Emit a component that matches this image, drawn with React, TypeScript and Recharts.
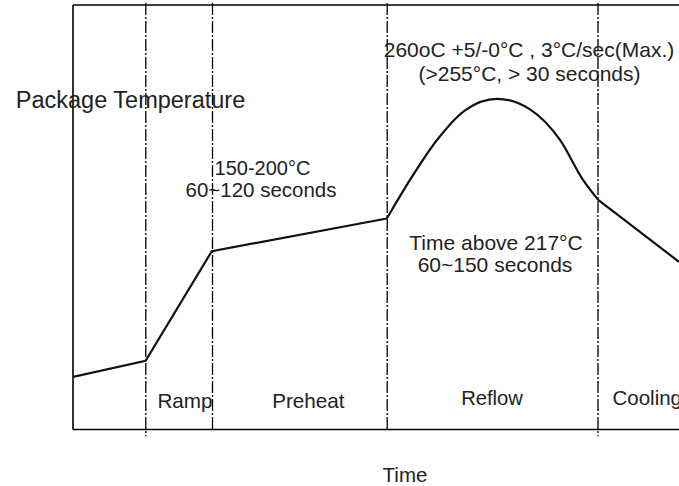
import { LineChart, Line, XAxis, YAxis, ReferenceLine, ReferenceDot } from "recharts";

// reflow profile, schematic: time in arbitrary units, temperature as % of plot height
const leadTime = [0, 36.3, 69.4, 156.9];
const leadTemp = [12.4, 16.2, 42.0, 49.7];
const reflowTime = [156.9, 168.5, 182, 196, 212, 228.5, 243.5, 255, 262.6];
const reflowTemp = [49.7, 58.8, 68.2, 75.2, 77.9, 75.4, 68.2, 58.8, 54.1];
const coolTime = [262.6, 303];
const coolTemp = [54.1, 39.5];

const phaseTimes = [36.4, 69.75, 157.1, 262.5];
const phaseNames = ["Ramp", "Preheat", "Reflow", "Cooling"];

const toPoints = (ts: number[], vs: number[]) => ts.map((t, i) => ({ t, v: vs[i] }));
const lead = toPoints(leadTime, leadTemp);
const reflow = toPoints(reflowTime, reflowTemp);
const cool = toPoints(coolTime, coolTemp);

// text placement (data coords)
const notes = [
  { text: "Package Temperature", t: 28.75, v: 75.7, size: 23.5, anchor: "middle" },
  { text: "150-200°C", t: 94.75, v: 59.95, size: 20, anchor: "middle" },
  { text: "60~120 seconds", t: 94, v: 54.77, size: 20.5, anchor: "middle" },
  { text: "260oC +5/-0°C , 3°C/sec(Max.)", t: 228, v: 87.75, size: 21, anchor: "middle" },
  { text: "(>255°C, > 30 seconds)", t: 228.25, v: 82.1, size: 21, anchor: "middle" },
  { text: "Time above 217°C", t: 211.5, v: 42.28, size: 21, anchor: "middle" },
  { text: "60~150 seconds", t: 211, v: 37.1, size: 21, anchor: "middle" },
  { text: phaseNames[0], t: 56, v: 4.95, size: 20.7, anchor: "middle" },
  { text: phaseNames[1], t: 117.7, v: 4.95, size: 20.7, anchor: "middle" },
  { text: phaseNames[2], t: 209.5, v: 5.77, size: 20.2, anchor: "middle" },
  { text: phaseNames[3], t: 269.75, v: 5.77, size: 20.5, anchor: "start" },
  { text: "Time", t: 166, v: -12.37, size: 20.5, anchor: "middle" },
];

const font = '"Liberation Sans", Arial, sans-serif';

export default function App() {
  return (
    <div style={{ position: "absolute", left: 0, top: 0, width: 679, height: 486, overflow: "hidden", background: "#fff" }}>
      <LineChart width={679} height={486} margin={{ top: 5, right: 0, bottom: 56.5, left: 73 }}>
        <XAxis type="number" dataKey="t" domain={[0, 303]} allowDataOverflow hide />
        <YAxis type="number" dataKey="v" domain={[0, 100]} allowDataOverflow hide />

        {/* box */}
        <ReferenceLine x={0} stroke="#000" strokeWidth={1.6} ifOverflow="visible" />
        <ReferenceLine y={0} stroke="#000" strokeWidth={1.6} ifOverflow="visible" />
        <ReferenceLine y={100} stroke="#000" strokeWidth={1.6} ifOverflow="visible" />

        {/* phase dividers */}
        {phaseTimes.map((t, i) => (
          <ReferenceLine
            key={t}
            segment={[
              { x: t, y: 100.5 },
              { x: t, y: i === 0 || i === 3 ? -1.6 : 0 },
            ]}
            stroke="#000"
            strokeWidth={1.3}
            strokeDasharray="12 2 2 2"
            ifOverflow="visible"
          />
        ))}

        <Line data={lead} dataKey="v" type="linear" stroke="#111" strokeWidth={2.2} dot={false} isAnimationActive={false} />
        <Line data={reflow} dataKey="v" type="monotone" stroke="#111" strokeWidth={2.2} dot={false} isAnimationActive={false} />
        <Line data={cool} dataKey="v" type="linear" stroke="#111" strokeWidth={2.2} dot={false} isAnimationActive={false} />

        {notes.map((n) => (
          <ReferenceDot
            key={n.text}
            x={n.t}
            y={n.v}
            r={0}
            fill="none"
            stroke="none"
            ifOverflow="visible"
            label={(p: any) => (
              <text
                x={p.viewBox.x}
                y={p.viewBox.y}
                textAnchor={n.anchor}
                fontFamily={font}
                fontSize={n.size}
                fill="#222"
              >
                {n.text}
              </text>
            )}
          />
        ))}
      </LineChart>
    </div>
  );
}
